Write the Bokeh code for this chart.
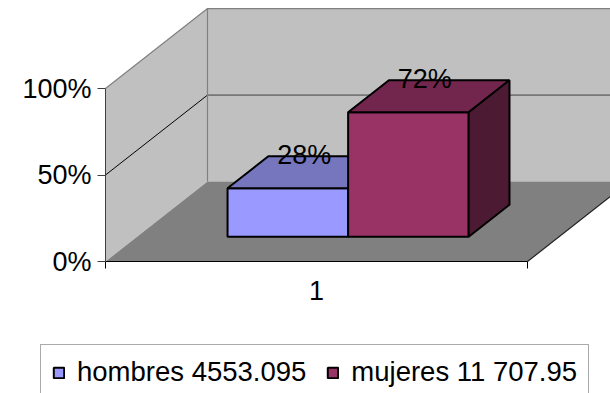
from bokeh.plotting import figure
from bokeh.models import Range1d, FixedTicker, Legend, LegendItem
from bokeh.core.properties import value
from bokeh.embed import file_html
from bokeh.resources import INLINE

# ---- data -------------------------------------------------------------
categories = ["1"]
series_names = ["hombres", "mujeres"]
series_values = [4553.095, 11707.95]
value_labels = ["4553.095", "11 707.95"]
y_ticks = [0, 50, 100]
y_tick_labels = ["0%", "50%", "100%"]

# ---- style ------------------------------------------------------------
FONT = "Liberation Sans"
FS = "27px"
LEGEND_FS = "27.5px"
front_colors = ["#9999FF", "#993366"]
top_colors = ["#7676BF", "#73264D"]
side_colors = ["#5C5C99", "#4D1A33"]
WALL = "#C0C0C0"
FLOOR = "#808080"

# oblique projection: one unit of depth moves right by DX (x units)
# and up by DY (percent units)
DX = 102 / 422
DY = 46.2
D0, D1 = 0.31, 0.71          # depth span of the bars
GAP = 1.5                    # gap between categories, in bar widths

# plot scale: 422 px per category, 1.73 px per percent point
PX_X, PX_Y = 422, 1.73
ORIGIN_X, ORIGIN_Y = 105, 261   # where the value 0 / category edge sits
W, H = 610, 393

total = sum(series_values)
pct = [v / total * 100 for v in series_values]

p = figure(width=W, height=H,
           x_range=Range1d(-ORIGIN_X / PX_X, (W - ORIGIN_X) / PX_X),
           y_range=Range1d(-(H - ORIGIN_Y) / PX_Y, ORIGIN_Y / PX_Y),
           min_border=0,
           output_backend="svg", toolbar_location=None)
p.outline_line_color = None
p.xgrid.visible = False
p.ygrid.visible = False
p.background_fill_color = "white"
p.border_fill_color = "white"

ymax = y_ticks[-1]

# walls and floor
left_wall_x = [0, 0, DX, DX]
left_wall_y = [0, ymax, ymax + DY, DY]
back_wall_x = [DX, DX, 1 + DX, 1 + DX]
back_wall_y = [DY, ymax + DY, ymax + DY, DY]
floor_x = [0, 1, 1 + DX, DX]
floor_y = [0, 0, DY, DY]
p.patches([left_wall_x, back_wall_x], [left_wall_y, back_wall_y],
          fill_color=WALL, line_color=None)
p.patch(floor_x, floor_y, fill_color=FLOOR, line_color=None)

# gridlines on the walls
for t in y_ticks[1:-1]:
    p.line([0, DX], [t, t + DY], line_color="black", line_width=1)
    p.line([DX, 1 + DX], [t + DY, t + DY], line_color="#404040", line_width=1)
# wall edges
p.line([0, DX, 1 + DX], [ymax, ymax + DY, ymax + DY], line_color="#808080", line_width=1.2)
p.line([DX, DX], [DY, ymax + DY], line_color="#808080", line_width=1.2)
p.line([1, 1 + DX], [0, DY], line_color="#202020", line_width=1.2)

# bars
n = len(series_values)
bw = 1 / (n + GAP)
x_start = 0.5 - n * bw / 2
front_renderers = []
label_x, label_y, label_txt = [], [], []
for i, h in enumerate(pct):
    x0 = x_start + i * bw
    x1 = x0 + bw
    ox0, oy0 = D0 * DX, D0 * DY
    ox1, oy1 = D1 * DX, D1 * DY
    fr = p.patch([x0 + ox0, x1 + ox0, x1 + ox0, x0 + ox0],
                 [oy0, oy0, h + oy0, h + oy0],
                 fill_color=front_colors[i], line_color="black", line_width=2)
    p.patch([x0 + ox0, x1 + ox0, x1 + ox1, x0 + ox1],
            [h + oy0, h + oy0, h + oy1, h + oy1],
            fill_color=top_colors[i], line_color="black", line_width=2)
    p.patch([x1 + ox0, x1 + ox1, x1 + ox1, x1 + ox0],
            [oy0, oy1, h + oy1, h + oy0],
            fill_color=side_colors[i], line_color="black", line_width=2)
    front_renderers.append(fr)
    dm = (D0 + D1) / 2
    label_x.append((x0 + x1) / 2 + dm * DX)
    label_y.append(h + dm * DY)
    label_txt.append(f"{round(h)}%")

p.text(label_x, label_y, text=label_txt, text_align="center", text_baseline="middle",
       x_offset=-4, y_offset=-17, text_font=value(FONT), text_font_size=FS,
       text_color="black")

# value axis, pinned at the category-axis origin
p.yaxis.fixed_location = 0
p.yaxis.ticker = FixedTicker(ticks=y_ticks)
p.yaxis.major_label_overrides = {t: s for t, s in zip(y_ticks, y_tick_labels)}
p.yaxis.bounds = (0, ymax)
p.yaxis.axis_line_color = "#404040"
p.yaxis.major_tick_line_color = "#404040"
p.yaxis.major_tick_out = 8
p.yaxis.major_tick_in = 0
p.yaxis.minor_tick_line_color = None
p.yaxis.major_label_standoff = 6
p.yaxis.major_label_text_font = FONT
p.yaxis.major_label_text_font_size = FS
p.yaxis.major_label_text_color = "black"

# category axis: label at the centre, ticks at the category edges
p.xaxis.fixed_location = 0
p.xaxis.ticker = FixedTicker(ticks=[0.5], minor_ticks=[0.0, 1.0])
p.xaxis.major_label_overrides = {0.5: categories[0]}
p.xaxis.bounds = (0, 1)
p.xaxis.axis_line_color = "black"
p.xaxis.major_tick_out = 0
p.xaxis.major_tick_in = 0
p.xaxis.minor_tick_out = 7
p.xaxis.minor_tick_in = 0
p.xaxis.minor_tick_line_color = "black"
p.xaxis.major_label_standoff = 12
p.xaxis.major_label_text_font = FONT
p.xaxis.major_label_text_font_size = FS
p.xaxis.major_label_text_color = "black"

legend = Legend(
    items=[LegendItem(label=f"{nm} {vl}", renderers=[r])
           for nm, vl, r in zip(series_names, value_labels, front_renderers)],
    location=(40, -7), orientation="horizontal",
    label_text_font=FONT, label_text_font_size=LEGEND_FS, label_text_color="black",
    border_line_color="#555555", border_line_width=1,
    background_fill_color="white", background_fill_alpha=1,
    padding=11, spacing=20, label_standoff=12,
    glyph_width=13, glyph_height=13, margin=0,
)
p.add_layout(legend)

open("out.html", "w").write(file_html(p, INLINE))
